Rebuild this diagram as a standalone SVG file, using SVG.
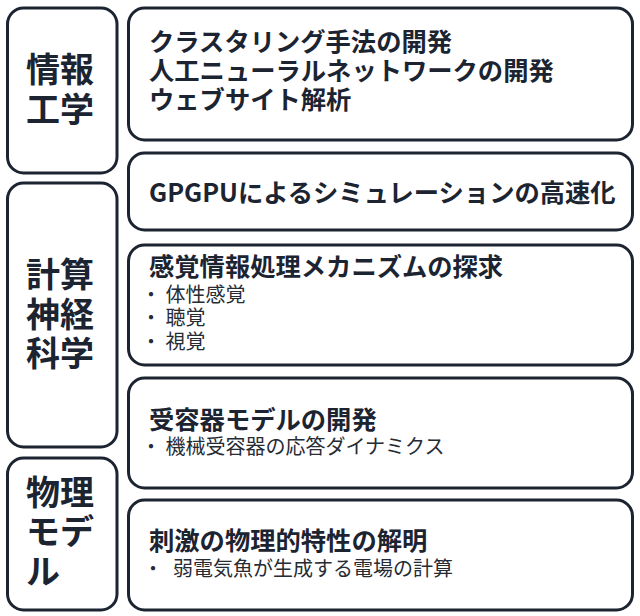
<svg xmlns="http://www.w3.org/2000/svg" width="640" height="616" viewBox="0 0 640 616">
<style>
.box{fill:#fff;stroke:#1c2431;stroke-width:3}
.lab{font-family:"Noto Sans CJK JP","Noto Sans",sans-serif;font-weight:700;font-size:34px;fill:#1c2431}
.ttl{font-family:"Noto Sans CJK JP","Noto Sans",sans-serif;font-weight:700;font-size:25.3px;fill:#1c2431}
.sub{font-family:"Noto Sans CJK JP","Noto Sans",sans-serif;font-weight:400;font-size:20px;fill:#262b34}
</style>
<rect width="640" height="616" fill="#fff"/>
<g id="cat-joho">
<rect class="box" x="7.5" y="8" width="109.5" height="165" rx="16"/>
<text class="lab" x="26" y="82">情報</text>
<text class="lab" x="26" y="122">工学</text>
</g>
<g id="cat-keisan">
<rect class="box" x="7.5" y="183" width="109.5" height="264" rx="16"/>
<text class="lab" x="26" y="287">計算</text>
<text class="lab" x="26" y="327">神経</text>
<text class="lab" x="26" y="366">科学</text>
</g>
<g id="cat-butsuri">
<rect class="box" x="7.5" y="458" width="109.5" height="152" rx="16"/>
<text class="lab" x="26" y="505">物理</text>
<text class="lab" x="26" y="544">モデ</text>
<text class="lab" x="26" y="584">ル</text>
</g>
<g id="item-a">
<rect class="box" x="128.5" y="8" width="504" height="132" rx="16"/>
<text class="ttl" x="149" y="51">クラスタリング手法の開発</text>
<text class="ttl" x="149" y="80">人工ニューラルネットワークの開発</text>
<text class="ttl" x="149" y="109">ウェブサイト解析</text>
</g>
<g id="item-b">
<rect class="box" x="128.5" y="153" width="504" height="77" rx="16"/>
<text class="ttl" x="149" y="202">GPGPUによるシミュレーションの高速化</text>
</g>
<g id="item-c">
<rect class="box" x="128.5" y="245" width="504" height="120" rx="16"/>
<text class="ttl" x="149" y="276">感覚情報処理メカニズムの探求</text>
<text class="sub" x="141" y="302">・ 体性感覚</text>
<text class="sub" x="141" y="325">・ 聴覚</text>
<text class="sub" x="141" y="349">・ 視覚</text>
</g>
<g id="item-d">
<rect class="box" x="128.5" y="378" width="504" height="110" rx="16"/>
<text class="ttl" x="149" y="429">受容器モデルの開発</text>
<text class="sub" x="141" y="454">・ 機械受容器の応答ダイナミクス</text>
</g>
<g id="item-e">
<rect class="box" x="128.5" y="500" width="504" height="110" rx="16"/>
<text class="ttl" x="149" y="550">刺激の物理的特性の解明</text>
<text class="sub" y="576"><tspan x="143">・</tspan><tspan x="173">弱電気魚が生成する電場の計算</tspan></text>
</g>
<g id="connectors"/>
</svg>
